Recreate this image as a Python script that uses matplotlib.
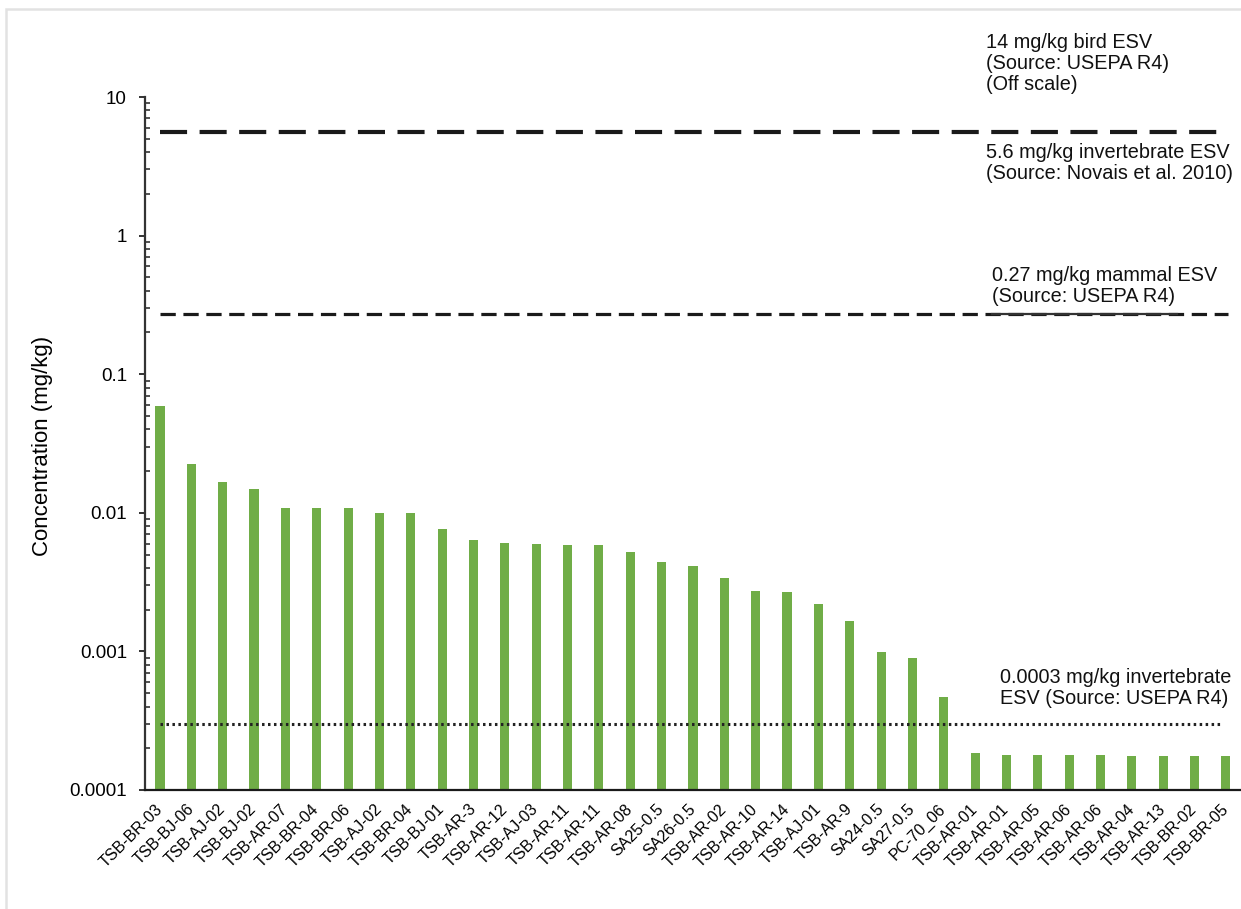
import matplotlib.pyplot as plt
import matplotlib.ticker as mticker
from matplotlib.patches import Rectangle

plt.rcParams['font.family'] = ['Liberation Sans', 'DejaVu Sans']
plt.rcParams['lines.scale_dashes'] = False

# sample locations, sorted by concentration
samples = ['TSB-BR-03', 'TSB-BJ-06', 'TSB-AJ-02', 'TSB-BJ-02', 'TSB-AR-07',
           'TSB-BR-04', 'TSB-BR-06', 'TSB-AJ-02', 'TSB-BR-04', 'TSB-BJ-01',
           'TSB-AR-3', 'TSB-AR-12', 'TSB-AJ-03', 'TSB-AR-11', 'TSB-AR-11',
           'TSB-AR-08', 'SA25-0.5', 'SA26-0.5', 'TSB-AR-02', 'TSB-AR-10',
           'TSB-AR-14', 'TSB-AJ-01', 'TSB-AR-9', 'SA24-0.5', 'SA27-0.5',
           'PC-70_06', 'TSB-AR-01', 'TSB-AR-01', 'TSB-AR-05', 'TSB-AR-06',
           'TSB-AR-06', 'TSB-AR-04', 'TSB-AR-13', 'TSB-BR-02', 'TSB-BR-05']

# concentrations (mg/kg)
conc = [0.059, 0.0225, 0.0167, 0.0149, 0.0109,
        0.0109, 0.0109, 0.0099, 0.0099, 0.0077,
        0.0064, 0.0061, 0.0060, 0.0059, 0.0059,
        0.0052, 0.0044, 0.0041, 0.0034, 0.00275,
        0.0027, 0.0022, 0.00167, 0.00099, 0.00089,
        0.000467, 0.000185, 0.000178, 0.000178, 0.000178,
        0.000178, 0.000176, 0.000176, 0.000176, 0.000176]

# screening values (mg/kg)
esv_invert_novais = 5.6
esv_mammal = 0.27
esv_invert_usepa = 0.0003

fig = plt.figure(figsize=(12.41, 9.09), dpi=100)
ax = fig.add_axes([145 / 1241, 1 - 790 / 909, 1096 / 1241, 693 / 909])

x = list(range(len(samples)))
ax.bar(x, conc, width=0.29, color='#70AD47', zorder=2)

ax.set_yscale('log')
ax.set_ylim(0.0001, 10)
ax.set_xlim(-0.478, 34.48)

# ESV lines
ax.plot([0, 34.07], [esv_invert_novais] * 2, color='#1a1a1a', lw=3.0,
        dashes=(19.5, 9), dash_capstyle='butt', zorder=3)
ax.plot([0, 34.07], [esv_mammal] * 2, color='#1a1a1a', lw=2.3,
        dashes=(11, 5.5), dash_capstyle='butt', zorder=3)
ax.plot([26.55, 32.45], [esv_mammal] * 2, color='#333333', lw=1.6, zorder=3)
ax.plot([0, 33.9], [esv_invert_usepa] * 2, color='#222222', lw=2.2,
        dashes=(1.8, 2.5), dash_capstyle='butt', zorder=3)

# axes styling
for side in ['top', 'right']:
    ax.spines[side].set_visible(False)
ax.spines['left'].set_linewidth(1.6)
ax.spines['left'].set_color('#333333')
ax.spines['bottom'].set_linewidth(1.6)
ax.spines['bottom'].set_color('#1a1a1a')

ax.yaxis.set_major_locator(mticker.LogLocator(base=10, numticks=10))
ax.yaxis.set_major_formatter(mticker.FuncFormatter(lambda v, p: '%g' % v))
ax.yaxis.set_minor_locator(mticker.LogLocator(base=10, subs=range(2, 10), numticks=20))
ax.yaxis.set_minor_formatter(mticker.NullFormatter())
ax.tick_params(axis='y', which='major', direction='out', length=4, width=1.4,
               color='#333333', labelsize=13.5, pad=9)
ax.tick_params(axis='y', which='minor', direction='in', length=3.5, width=1.2,
               color='#333333')

ax.set_xticks(x)
ax.set_xticklabels(samples, rotation=45, ha='right', va='center',
                   rotation_mode='anchor', fontsize=11.5)
ax.tick_params(axis='x', length=0, pad=12)

ax.set_ylabel('Concentration (mg/kg)', fontsize=16)
ax.yaxis.set_label_coords(-(145 - 53) / 1096, (790 - 446) / 693)

# ESV annotations
txt = dict(fontsize=14.3, linespacing=1.15, va='top', ha='left', color='#111111')
fig.text(986 / 1241, 1 - 33 / 909,
         '14 mg/kg bird ESV\n(Source: USEPA R4)\n(Off scale)', **txt)
fig.text(986 / 1241, 1 - 143 / 909,
         '5.6 mg/kg invertebrate ESV\n(Source: Novais et al. 2010)', **txt)
fig.text(992 / 1241, 1 - 266 / 909,
         '0.27 mg/kg mammal ESV\n(Source: USEPA R4)', **txt)
fig.text(1000 / 1241, 1 - 668 / 909,
         '0.0003 mg/kg invertebrate\nESV (Source: USEPA R4)', **txt)

# light frame around the figure
fig.patches.append(Rectangle((6 / 1241, -0.1), 1.2, 1.1 - 9 / 909,
                             transform=fig.transFigure, fill=False,
                             edgecolor='#e2e2e2', lw=1.8))

fig.savefig('out.png', dpi=100)
